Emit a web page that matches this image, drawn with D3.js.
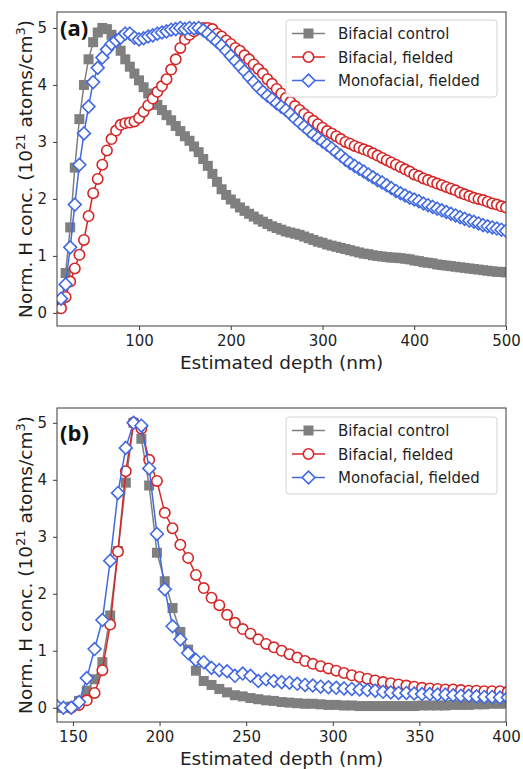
<!DOCTYPE html>
<html>
<head>
<meta charset="utf-8">
<script src="https://cdn.jsdelivr.net/npm/d3@7"></script>
<style>
  html, body { margin: 0; padding: 0; background: #fff; }
  svg { display: block; font-family: "DejaVu Sans", sans-serif; }
</style>
</head>
<body>
<svg id="chart" width="523" height="769"></svg>
<script>
// ---- Panel (a): SIMS hydrogen profiles, 0-500 nm ----
const depthA = [
  15, 20, 25, 30, 35, 40, 45, 50, 55, 60,
  65, 70, 75, 80, 85, 90, 95, 100, 105, 110,
  115, 120, 125, 130, 135, 140, 145, 150, 155, 160,
  165, 170, 175, 180, 185, 190, 195, 200, 205, 210,
  215, 220, 225, 230, 235, 240, 245, 250, 255, 260,
  265, 270, 275, 280, 285, 290, 295, 300, 305, 310,
  315, 320, 325, 330, 335, 340, 345, 350, 355, 360,
  365, 370, 375, 380, 385, 390, 395, 400, 405, 410,
  415, 420, 425, 430, 435, 440, 445, 450, 455, 460,
  465, 470, 475, 480, 485, 490, 495, 500
];
const controlA = [
  0.1, 0.7, 1.5, 2.55, 3.4, 4.0, 4.45, 4.75, 4.92, 5.0,
  4.98, 4.88, 4.75, 4.6, 4.45, 4.32, 4.2, 4.08, 3.96, 3.85,
  3.74, 3.65, 3.56, 3.47, 3.38, 3.28, 3.19, 3.1, 3.02, 2.92,
  2.82, 2.7, 2.58, 2.44, 2.3, 2.17, 2.07, 1.99, 1.92, 1.85,
  1.79, 1.74, 1.69, 1.64, 1.6, 1.56, 1.52, 1.49, 1.46, 1.43,
  1.41, 1.39, 1.37, 1.34, 1.31, 1.28, 1.25, 1.23, 1.2, 1.18,
  1.16, 1.14, 1.12, 1.1, 1.08, 1.06, 1.04, 1.03, 1.01, 1.0,
  0.99, 0.98, 0.97, 0.97, 0.96, 0.95, 0.94, 0.92, 0.91, 0.89,
  0.88, 0.87, 0.85, 0.84, 0.83, 0.82, 0.81, 0.8, 0.79, 0.78,
  0.77, 0.76, 0.75, 0.74, 0.73, 0.72, 0.72, 0.71
];
const bifacialA = [
  0.08, 0.28, 0.55, 0.78, 1.02, 1.28, 1.7, 2.1, 2.35, 2.6,
  2.85, 3.05, 3.2, 3.3, 3.33, 3.34, 3.36, 3.42, 3.53, 3.64,
  3.76, 3.88, 3.98, 4.1, 4.27, 4.45, 4.65, 4.8, 4.88, 4.94,
  4.98, 5.0, 5.0, 4.98, 4.9, 4.85, 4.78, 4.72, 4.65, 4.6,
  4.52, 4.45, 4.36, 4.28, 4.2, 4.1, 4.02, 3.93, 3.85, 3.77,
  3.7, 3.63, 3.56, 3.49, 3.43, 3.37, 3.31, 3.25, 3.19, 3.15,
  3.1, 3.05, 3.0, 2.97, 2.93, 2.9, 2.87, 2.84, 2.8, 2.76,
  2.72, 2.68, 2.64, 2.6, 2.56, 2.52, 2.48, 2.43, 2.4, 2.36,
  2.33, 2.3, 2.27, 2.24, 2.21, 2.18, 2.15, 2.11, 2.08, 2.05,
  2.02, 2.0, 1.98, 1.95, 1.92, 1.9, 1.87, 1.85
];
const monofacialA = [
  0.25, 0.5, 1.15, 1.9, 2.6, 3.15, 3.62, 4.05, 4.3, 4.48,
  4.62, 4.72, 4.78, 4.83, 4.9, 4.9, 4.83, 4.8, 4.82, 4.85,
  4.87, 4.9, 4.92, 4.94, 4.97, 4.98, 5.0, 4.98, 5.0, 4.99,
  5.0, 4.96, 4.9, 4.83, 4.76, 4.69, 4.6, 4.51, 4.42, 4.33,
  4.24, 4.14, 4.05, 3.96, 3.88, 3.81, 3.75, 3.68, 3.62, 3.56,
  3.49, 3.41, 3.34, 3.27, 3.2, 3.13, 3.07, 3.01, 2.95, 2.89,
  2.82, 2.76, 2.69, 2.63, 2.58, 2.53, 2.48, 2.43, 2.38, 2.33,
  2.29, 2.24, 2.19, 2.14, 2.1, 2.06, 2.02, 1.99, 1.96, 1.92,
  1.89, 1.86, 1.83, 1.8, 1.77, 1.74, 1.71, 1.68, 1.65, 1.62,
  1.6, 1.57, 1.54, 1.52, 1.5, 1.48, 1.46, 1.44
];

// ---- Panel (b): aligned profiles, 140-400 nm ----
const depthB = [
  140, 144.5, 149, 153.5, 158, 162.5, 167, 171.5, 176, 180.5,
  185, 189.5, 194, 198.5, 203, 207.5, 212, 216.5, 221, 225.5,
  230, 234.5, 239, 243.5, 248, 252.5, 257, 261.5, 266, 270.5,
  275, 279.5, 284, 288.5, 293, 297.5, 302, 306.5, 311, 315.5,
  320, 324.5, 329, 333.5, 338, 342.5, 347, 351.5, 356, 360.5,
  365, 369.5, 374, 378.5, 383, 387.5, 392, 396.5, 401
];
const controlB = [
  0.0, 0.0, 0.02, 0.12, 0.3, 0.5, 0.8, 1.62, 2.75, 3.95,
  5.0, 4.72, 3.9, 2.72, 2.22, 1.75, 1.33, 1.02, 0.65, 0.47,
  0.4, 0.33, 0.27, 0.22, 0.2, 0.17, 0.15, 0.13, 0.12, 0.1,
  0.09, 0.08, 0.07, 0.07, 0.06, 0.05, 0.05, 0.04, 0.04, 0.03,
  0.03, 0.03, 0.03, 0.03, 0.03, 0.03, 0.03, 0.04, 0.04, 0.04,
  0.04, 0.05, 0.05, 0.05, 0.06, 0.06, 0.07, 0.07, 0.08
];
const bifacialB = [
  null, null, 0.0, 0.05, 0.13, 0.26, 0.66, 1.46, 2.74, 4.15,
  5.0, 4.9, 4.35, 3.98, 3.42, 3.15, 2.86, 2.63, 2.33, 2.1,
  1.93, 1.8, 1.63, 1.49, 1.38, 1.3, 1.2, 1.12, 1.06, 1.0,
  0.94, 0.88, 0.82, 0.77, 0.73, 0.69, 0.65, 0.61, 0.57, 0.54,
  0.51, 0.48, 0.45, 0.43, 0.41, 0.39, 0.37, 0.35, 0.34, 0.33,
  0.32, 0.32, 0.31, 0.3, 0.3, 0.29, 0.29, 0.29, 0.28
];
const monofacialB = [
  0.05, 0.0, 0.0, 0.1, 0.52, 1.03, 1.54, 2.58, 3.77, 4.56,
  5.0, 4.95, 4.2, 3.05, 2.08, 1.43, 1.2, 0.96, 0.84, 0.8,
  0.7, 0.66, 0.64, 0.56, 0.6, 0.56, 0.47, 0.5, 0.47, 0.45,
  0.44, 0.42, 0.4, 0.39, 0.37, 0.36, 0.35, 0.34, 0.33, 0.32,
  0.31, 0.3, 0.28, 0.27, 0.26, 0.26, 0.25, 0.24, 0.24, 0.23,
  0.23, 0.22, 0.21, 0.21, 0.2, 0.19, 0.19, 0.18, 0.18
];

const seriesLabels = ["Bifacial control", "Bifacial, fielded", "Monofacial, fielded"];
const xTicksA = [100, 200, 300, 400, 500];
const xTicksB = [150, 200, 250, 300, 350, 400];
const yTicks = [0, 1, 2, 3, 4, 5];

const styles = [
  { color: "#7f7f7f", marker: "square" },
  { color: "#d62728", marker: "circle" },
  { color: "#4169e1", marker: "diamond" }
];

const svg = d3.select("#chart");
const TEXT = "#1f1f1f";
const SPINE = "#3a3a3a";

function drawMarker(g, type, color, cx, cy) {
  if (type === "square") {
    const s = 10;
    g.append("rect").attr("x", cx - s / 2).attr("y", cy - s / 2)
      .attr("width", s).attr("height", s).attr("fill", color);
  } else if (type === "circle") {
    g.append("circle").attr("cx", cx).attr("cy", cy).attr("r", 5.2)
      .attr("fill", "#fff").attr("stroke", color).attr("stroke-width", 1.6);
  } else {
    const h = 6.4;
    g.append("path")
      .attr("d", `M${cx},${cy - h}L${cx + h},${cy}L${cx},${cy + h}L${cx - h},${cy}Z`)
      .attr("fill", "#fff").attr("stroke", color).attr("stroke-width", 1.6);
  }
}

function drawPanel(cfg, idx) {
  const left = 57, right = 506;
  const x = d3.scaleLinear().domain(cfg.xDomain).range([left, right]);
  const y = d3.scaleLinear().domain(cfg.yDomain).range([cfg.bottom, cfg.top]);
  const g = svg.append("g");

  const clipId = "clip" + idx;
  svg.append("clipPath").attr("id", clipId).append("rect")
    .attr("x", left).attr("y", cfg.top)
    .attr("width", right - left).attr("height", cfg.bottom - cfg.top);

  const plot = g.append("g").attr("clip-path", `url(#${clipId})`);
  const line = d3.line()
    .defined((d) => d[1] !== null)
    .x((d) => x(d[0])).y((d) => y(d[1]));

  cfg.series.forEach((vals, i) => {
    const st = styles[i];
    const pts = cfg.depth.map((d, k) => [d, vals[k]]);
    const sg = plot.append("g");
    sg.append("path").datum(pts).attr("d", line)
      .attr("fill", "none").attr("stroke", st.color).attr("stroke-width", 1.5);
    pts.filter((p) => p[1] !== null)
      .forEach((p) => drawMarker(sg, st.marker, st.color, x(p[0]), y(p[1])));
  });

  // axes
  const xAxis = d3.axisBottom(x).tickValues(cfg.xTicks).tickFormat(d3.format("d"))
    .tickSize(4).tickPadding(5.5);
  const yAxis = d3.axisLeft(y).tickValues(yTicks).tickFormat(d3.format("d"))
    .tickSize(4).tickPadding(6);
  const gx = g.append("g").attr("transform", `translate(0,${cfg.bottom})`).call(xAxis);
  const gy = g.append("g").attr("transform", `translate(${left},0)`).call(yAxis);
  [gx, gy].forEach((a) => {
    a.select(".domain").remove();
    a.selectAll("line").attr("stroke", SPINE).attr("stroke-width", 1);
    a.selectAll("text").attr("fill", TEXT).attr("font-size", 15)
      .attr("font-family", "DejaVu Sans, sans-serif");
  });

  // frame
  g.append("rect").attr("x", left).attr("y", cfg.top)
    .attr("width", right - left).attr("height", cfg.bottom - cfg.top)
    .attr("fill", "none").attr("stroke", SPINE).attr("stroke-width", 1);

  // axis titles
  g.append("text").attr("x", (left + right) / 2).attr("y", cfg.bottom + 43)
    .attr("text-anchor", "middle").attr("font-size", 18.5).attr("fill", TEXT)
    .text("Estimated depth (nm)");
  const yl = g.append("text")
    .attr("transform", `translate(32,${(cfg.top + cfg.bottom) / 2}) rotate(-90)`)
    .attr("text-anchor", "middle").attr("font-size", 18.5).attr("fill", TEXT);
  yl.append("tspan").text("Norm. H conc. (10");
  yl.append("tspan").attr("dy", -7).attr("font-size", 13).text("21");
  yl.append("tspan").attr("dy", 7).text(" atoms/cm");
  yl.append("tspan").attr("dy", -7).attr("font-size", 13).text("3");
  yl.append("tspan").attr("dy", 7).text(")");

  // panel tag
  g.append("text").attr("x", 60).attr("y", cfg.top + cfg.tagDy)
    .attr("font-family", "Open Sans, sans-serif").attr("font-weight", 700)
    .attr("font-size", 22).attr("fill", "#111").text(cfg.tag);

  // legend
  const lg = g.append("g");
  const lt = cfg.top + cfg.legendDy;
  lg.append("rect").attr("x", 286).attr("y", lt).attr("width", 211).attr("height", 77)
    .attr("rx", 3).attr("fill", "#fff").attr("fill-opacity", 0.85)
    .attr("stroke", "#d4d4d4").attr("stroke-width", 1);
  seriesLabels.forEach((name, i) => {
    const cy = lt + 13.5 + i * 23.5;
    lg.append("line").attr("x1", 292).attr("x2", 325).attr("y1", cy).attr("y2", cy)
      .attr("stroke", styles[i].color).attr("stroke-width", 1.5);
    drawMarker(lg, styles[i].marker, styles[i].color, 308.5, cy);
    lg.append("text").attr("x", 338).attr("y", cy + 5.5).attr("font-size", 15)
      .attr("fill", TEXT).text(name);
  });
}

drawPanel({
  top: 12, bottom: 326,
  xDomain: [10.6, 500], yDomain: [-0.23, 5.28],
  xTicks: xTicksA, depth: depthA,
  series: [controlA, bifacialA, monofacialA],
  tag: "(a)", tagDy: 24, legendDy: 8
}, 0);

drawPanel({
  top: 408, bottom: 722,
  xDomain: [140.8, 400], yDomain: [-0.25, 5.26],
  xTicks: xTicksB, depth: depthB,
  series: [controlB, bifacialB, monofacialB],
  tag: "(b)", tagDy: 33, legendDy: 9
}, 1);
</script>
</body>
</html>
